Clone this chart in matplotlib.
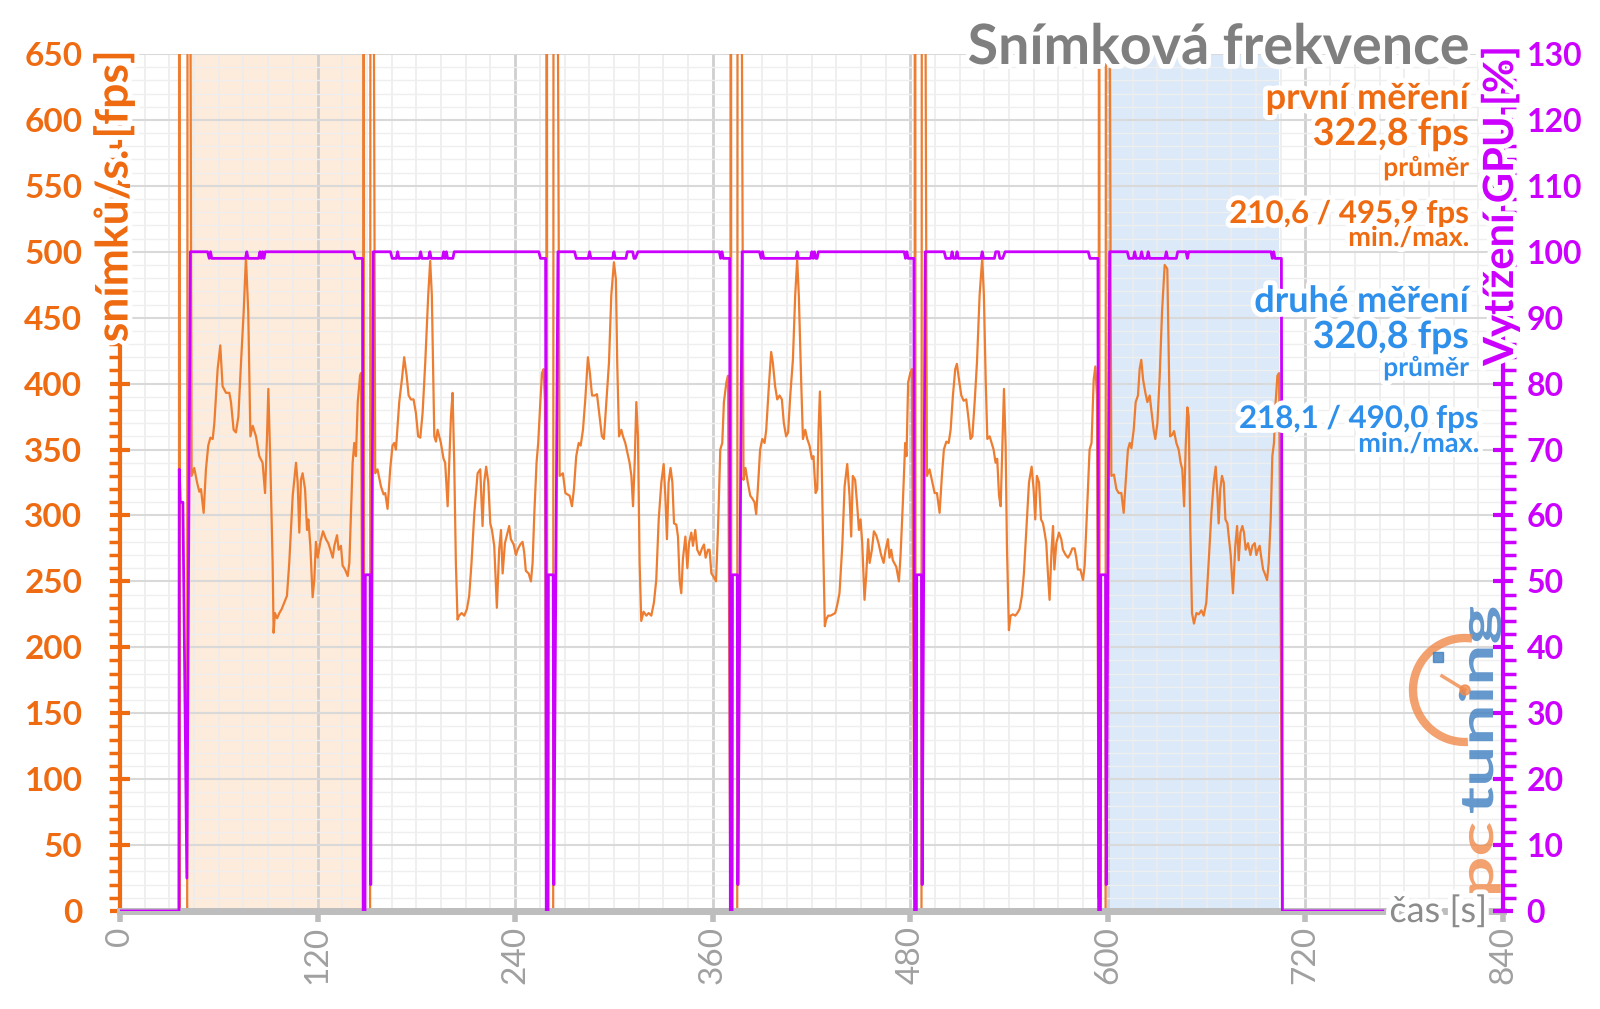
import numpy as np
import matplotlib
matplotlib.use("Agg")
import matplotlib.pyplot as plt
import matplotlib.patheffects as pe
from matplotlib.patches import Arc, PathPatch, Rectangle, Circle
from matplotlib.textpath import TextPath
from matplotlib.font_manager import FontProperties
from matplotlib.transforms import Affine2D, IdentityTransform
from matplotlib.ticker import MultipleLocator

plt.rcParams['font.family'] = ['Lato', 'DejaVu Sans']

# --- data -----------------------------------------------------------------
# start time of each benchmark run [s] (GPU jumps to 100 %)
run_start = [42.7, 153.8, 266.0, 377.9, 489.1, 601.1]

# fps inside each run: time from run start [s] and value [fps]
run1_tau = [0.8, 2.4, 4.1, 5.5, 6.5, 8.1, 9.5, 10.9, 12.2, 13.6, 14.6, 16.6, 18.2, 19.6, 21.7,
            23.7, 24.7, 26.3, 27.7, 29.2, 30.8, 32.4, 33.8, 35.2, 36.5, 37.9, 39.9, 41.9, 43.9,
            45.4, 46.6, 47.4, 48.6, 50.0, 50.6, 51.4, 52.7, 54.1, 55.5, 57.1, 58.7, 60.1, 62.2,
            64.2, 65.2, 66.2, 67.2, 68.2, 69.7, 70.9, 71.7, 72.9, 74.3, 75.3, 76.3, 77.4, 79.0,
            80.6, 82.4, 83.8, 85.1, 86.5, 87.5, 89.1, 90.1, 91.5, 92.5, 94.0, 95.6, 96.6, 97.6,
            98.6, 99.6, 100.6, 101.7, 103.1, 103.7]
run1_fps = [330, 336, 325, 318, 320, 302, 335, 353, 359, 358, 370, 411, 429, 398, 393,
            393, 386, 365, 363, 375, 416, 454, 496, 454, 360, 368, 360, 345, 340,
            317, 360, 396, 340, 264, 211, 226, 222, 226, 229, 234, 239, 264, 315,
            340, 325, 287, 327, 332, 320, 289, 297, 277, 238, 251, 280, 268, 280,
            288, 282, 279, 274, 268, 277, 285, 274, 277, 262, 259, 254, 264, 302,
            340, 355, 345, 386, 406, 408]

run2_tau = [1.2, 2.6, 4.7, 6.3, 7.3, 8.7, 10.3, 11.7, 12.8, 13.8, 15.8, 17.4, 18.8, 20.3, 21.5,
            22.9, 24.5, 25.9, 27.3, 28.6, 30.0, 31.6, 33.4, 34.6, 35.6, 37.1, 38.1, 39.1, 41.1,
            42.7, 43.7, 45.2, 46.2, 47.2, 48.2, 49.2, 50.2, 51.2, 52.2, 53.7, 55.3, 56.9, 58.3,
            59.7, 61.4, 63.4, 65.0, 66.4, 67.4, 68.6, 69.9, 71.1, 72.1, 73.5, 75.1, 76.5, 77.6,
            78.6, 80.0, 81.6, 82.6, 83.6, 85.3, 86.7, 87.7, 89.3, 90.7, 91.7, 92.7, 94.4, 95.8,
            96.8, 97.8, 99.2, 100.2, 101.5, 102.5, 103.5, 104.3]
run2_fps = [332, 335, 322, 316, 317, 305, 335, 353, 355, 350, 386, 403, 420, 406, 391,
            388, 388, 378, 360, 359, 378, 416, 467, 493, 467, 360, 356, 365, 355,
            343, 340, 307, 340, 375, 393, 340, 264, 221, 224, 226, 224, 229, 239,
            264, 302, 332, 335, 292, 325, 337, 325, 294, 289, 277, 230, 274, 289,
            256, 279, 287, 292, 282, 278, 270, 274, 278, 280, 272, 258, 256, 250,
            264, 300, 340, 355, 386, 408, 411, 386]

run3_tau = [1.0, 3.0, 4.5, 5.7, 7.1, 8.5, 9.7, 11.1, 12.6, 13.8, 15.2, 16.6, 18.2, 19.4, 20.7,
            22.3, 23.7, 25.3, 26.7, 27.9, 29.4, 31.0, 32.4, 34.0, 35.2, 36.0, 37.1, 38.5, 39.5,
            40.9, 42.1, 43.5, 44.6, 45.6, 46.6, 47.6, 48.6, 49.6, 50.6, 52.0, 53.7, 55.1, 56.7,
            58.3, 59.7, 61.2, 62.8, 64.2, 65.2, 66.2, 67.2, 68.4, 69.5, 70.5, 71.9, 72.9, 73.9,
            74.9, 75.9, 77.4, 78.6, 79.6, 81.0, 82.0, 83.4, 84.6, 86.1, 87.5, 88.7, 89.7, 91.1,
            92.1, 93.2, 94.8, 96.0, 97.2, 98.6, 99.8, 100.8, 102.3, 103.3]
run3_fps = [330, 332, 317, 316, 315, 307, 320, 345, 355, 353, 365, 388, 420, 408, 391,
            391, 392, 375, 360, 358, 386, 416, 467, 492, 479, 416, 360, 365, 360,
            355, 348, 340, 330, 307, 340, 386, 360, 264, 220, 227, 224, 226, 224,
            234, 251, 297, 325, 339, 315, 282, 325, 336, 325, 294, 293, 284, 251,
            241, 267, 284, 260, 279, 287, 277, 289, 274, 270, 275, 278, 268, 274,
            274, 256, 253, 250, 289, 350, 355, 386, 401, 406]

run4_tau = [0.8, 2.0, 3.4, 4.9, 6.1, 7.5, 8.5, 9.5, 10.9, 12.2, 13.6, 14.6, 16.2, 17.6, 18.6,
            20.0, 21.3, 22.7, 24.1, 25.3, 26.7, 27.9, 29.2, 30.8, 32.2, 33.4, 34.4, 35.8, 36.9,
            38.3, 39.5, 40.9, 42.3, 43.3, 44.6, 45.6, 46.4, 47.2, 48.0, 49.0, 50.2, 51.0, 52.2,
            53.7, 55.1, 56.5, 57.7, 59.1, 60.8, 62.2, 63.8, 65.2, 66.2, 67.2, 68.6, 69.9, 70.9,
            71.9, 72.9, 74.3, 75.3, 76.5, 77.4, 78.8, 80.0, 81.4, 82.8, 84.4, 85.9, 87.1, 88.5,
            89.5, 90.5, 91.5, 93.6, 95.2, 96.2, 97.6, 99.0, 99.8, 100.8, 102.1, 103.1]
run4_fps = [327, 336, 325, 315, 313, 310, 301, 320, 350, 358, 355, 365, 398, 424, 416,
            398, 388, 391, 388, 370, 360, 363, 391, 418, 467, 494, 467, 403, 358,
            365, 358, 353, 343, 345, 317, 320, 365, 394, 360, 289, 216, 221, 224,
            224, 225, 226, 232, 241, 277, 322, 339, 315, 284, 330, 327, 307, 289,
            297, 279, 236, 254, 282, 264, 274, 288, 285, 279, 270, 264, 274, 282,
            268, 274, 266, 261, 250, 270, 310, 355, 345, 401, 408, 411]

run5_tau = [1.0, 2.6, 4.3, 5.7, 7.1, 8.7, 10.1, 11.3, 12.8, 14.2, 15.4, 16.8, 18.2, 19.2, 20.5,
            21.9, 23.3, 24.9, 26.3, 27.5, 28.6, 30.0, 31.4, 33.0, 34.6, 35.6, 36.7, 37.7, 39.1,
            40.3, 41.5, 42.7, 43.7, 44.8, 45.8, 46.8, 47.8, 48.8, 49.6, 50.8, 51.8, 53.3, 54.7,
            55.9, 57.3, 58.7, 59.9, 61.4, 63.0, 64.6, 65.8, 66.8, 67.8, 69.1, 70.3, 71.5, 72.5,
            73.5, 74.5, 75.5, 76.7, 77.6, 78.4, 79.6, 81.2, 82.6, 83.6, 85.3, 86.7, 88.1, 89.3,
            90.7, 91.7, 92.7, 94.2, 95.8, 96.8, 98.2, 99.8, 101.0, 102.3, 103.3, 104.3]
run5_fps = [330, 335, 325, 317, 317, 302, 330, 350, 356, 355, 365, 391, 411, 415, 403,
            391, 387, 388, 373, 358, 360, 386, 416, 467, 495, 467, 403, 358, 360,
            355, 350, 340, 343, 315, 307, 353, 396, 353, 277, 213, 224, 225, 224,
            226, 229, 239, 256, 289, 325, 337, 320, 297, 330, 325, 297, 294, 287,
            279, 256, 236, 274, 292, 259, 279, 287, 282, 274, 270, 268, 271, 275,
            275, 268, 259, 259, 251, 262, 302, 350, 355, 403, 413, 391]

run6_tau = [1.0, 2.6, 4.1, 5.5, 7.1, 8.5, 9.7, 11.1, 12.2, 13.2, 14.6, 15.8, 17.2, 18.2, 19.2,
            20.3, 21.7, 22.9, 24.3, 25.3, 26.7, 27.7, 29.0, 30.4, 31.8, 33.4, 35.0, 35.8, 36.7,
            37.9, 39.1, 40.5, 41.9, 43.1, 44.1, 45.2, 46.2, 47.2, 48.0, 49.0, 50.0, 51.2, 52.7,
            54.1, 55.7, 57.1, 58.7, 60.1, 61.8, 63.2, 64.4, 65.4, 66.2, 67.2, 68.2, 69.3, 70.3,
            71.5, 72.5, 73.5, 74.9, 76.3, 77.4, 78.4, 79.4, 80.6, 81.6, 82.6, 84.0, 85.5, 86.7,
            88.1, 89.1, 90.1, 91.1, 92.1, 93.2, 94.2, 95.6, 96.6, 97.8, 98.8, 99.8, 100.8,
            101.9, 102.9]
run6_fps = [330, 331, 320, 317, 317, 302, 325, 350, 355, 351, 365, 386, 391, 411, 418,
            403, 393, 386, 391, 380, 365, 358, 370, 406, 454, 490, 487, 429, 360,
            361, 364, 355, 350, 340, 335, 307, 353, 382, 375, 289, 226, 218, 226,
            225, 228, 224, 234, 264, 302, 325, 337, 317, 294, 320, 330, 325, 297,
            294, 282, 270, 241, 277, 292, 266, 287, 292, 287, 274, 279, 270, 277,
            279, 270, 274, 277, 268, 259, 256, 251, 264, 297, 345, 355, 386,
            406, 408]

# GPU load inside each run: time from run start [s] and value [%]
run1_gpu_tau = [0, 10.5, 11.5, 12.3, 13.0, 33.5, 34.3, 35.1, 41.5, 42.3, 43.1, 43.9, 44.7, 45.5,
                99.2, 100.2, 104.6]
run1_gpu = [100, 100, 99, 100, 99, 99, 100, 99, 99, 100, 99, 100, 99, 100, 100, 99, 99]
run2_gpu_tau = [0, 10.5, 11.5, 14.0, 14.8, 15.6, 28.0, 28.8, 29.6, 33.6, 34.4, 35.2, 42.0, 42.8,
                43.6, 44.4, 45.2, 48.4, 49.2, 100.6, 101.6, 104.7]
run2_gpu = [100, 100, 99, 99, 100, 99, 99, 100, 99, 99, 100, 99, 99, 100, 99, 100, 99, 99, 100,
            100, 99, 99]
run3_gpu_tau = [0, 10.1, 11.1, 18.4, 19.2, 20.0, 33.2, 34.0, 34.8, 41.3, 42.1, 45.4, 46.2, 47.0,
                48.6, 98.0, 98.8, 99.6, 100.4, 104.3]
run3_gpu = [100, 100, 99, 99, 100, 99, 99, 100, 99, 99, 100, 100, 99, 99, 100, 100, 99, 100,
            99, 99]
run4_gpu_tau = [0, 10.5, 11.5, 12.3, 13.1, 32.6, 33.4, 34.2, 41.5, 42.3, 43.1, 43.9, 44.7, 45.5,
                46.3, 48.5, 98.4, 99.2, 100.0, 100.8, 104.3]
run4_gpu = [100, 100, 99, 100, 99, 99, 100, 99, 99, 100, 99, 100, 99, 99, 100, 100, 100, 99,
            100, 99, 99]
run5_gpu_tau = [0, 11.5, 12.5, 15.5, 16.3, 17.1, 18.5, 19.3, 20.1, 33.8, 34.6, 35.4, 42.0, 42.8,
                44.5, 45.3, 47.0, 48.5, 99.0, 100.0, 104.9]
run5_gpu = [100, 100, 99, 99, 100, 99, 99, 100, 99, 99, 100, 99, 99, 100, 100, 99, 99, 100,
            100, 99, 99]
run6_gpu_tau = [0, 10.7, 11.7, 14.4, 15.2, 16.0, 18.6, 19.4, 20.2, 22.6, 23.4, 24.2, 33.6, 34.4,
                35.2, 40.5, 41.3, 46.4, 47.2, 48.0, 98.0, 98.8, 99.6, 100.4, 104.3]
run6_gpu = [100, 100, 99, 99, 100, 99, 99, 100, 99, 99, 100, 99, 99, 100, 99, 99, 100, 100, 99,
            100, 100, 99, 100, 99, 99]

# loading before the first run
start_fps_t = [0.0, 35.8, 36.0, 36.4, 40.8, 41.2]
start_fps = [0, 0, 1500, 0, 0, 1500]
start_gpu_t = [0.0, 35.8, 36.0, 36.6, 38.2, 40.6]
start_gpu = [0, 0, 67, 62, 62, 5]

# loading between runs, time after the end of the previous run [s]
gap_fps_dt = [0.4, 0.7, 1.0, 4.6, 5.0]
gap_fps = [10, 1500, 0, 0, 1500]
gap_gpu_dt = [0.4, 1.5, 1.7, 4.6, 5.0]
gap_gpu = [0, 0, 51, 51, 4]

# idle after the last run
end_t = [706.0, 767.0]
end_fps = [0, 0]
end_gpu = [0, 0]

run_tau = [run1_tau, run2_tau, run3_tau, run4_tau, run5_tau, run6_tau]
run_fps = [run1_fps, run2_fps, run3_fps, run4_fps, run5_fps, run6_fps]
run_gpu_tau = [run1_gpu_tau, run2_gpu_tau, run3_gpu_tau, run4_gpu_tau, run5_gpu_tau, run6_gpu_tau]
run_gpu = [run1_gpu, run2_gpu, run3_gpu, run4_gpu, run5_gpu, run6_gpu]

# shaded measurement windows [s]
first_span = (41.1, 147.7)
second_span = (599.1, 703.9)

# --- assemble series -------------------------------------------------------
t_fps, fps = list(start_fps_t), list(start_fps)
t_gpu, gpu = list(start_gpu_t), list(start_gpu)
for i, s in enumerate(run_start):
    t_fps += [s + x for x in run_tau[i]]
    fps += run_fps[i]
    t_gpu += [s + x for x in run_gpu_tau[i]]
    gpu += run_gpu[i]
    e = s + run_gpu_tau[i][-1]
    if i < len(run_start) - 1:
        t_fps += [e + x for x in gap_fps_dt]
        fps += gap_fps
        t_gpu += [e + x for x in gap_gpu_dt]
        gpu += gap_gpu
t_fps += end_t
fps += end_fps
t_gpu += end_t
gpu += end_gpu

# --- styling ---------------------------------------------------------------
W, H = 1600, 1009
c_orange = '#ee6b12'
c_line = '#ed7d31'
c_mag = '#cc00ff'
c_blue = '#2e90ea'
c_gray = '#7f7f7f'
c_logo_o = '#f08a4b'
c_logo_b = '#3f7fc0'
halo = [pe.withStroke(linewidth=7, foreground='white')]

fig = plt.figure(figsize=(W / 100, H / 100), dpi=100)
ax = fig.add_axes([120 / W, 1 - 911 / H, 1383 / W, 857 / H])
ax2 = ax.twinx()

ax.axvspan(*first_span, color='#fdebdb', zorder=0.2, lw=0)
ax.axvspan(*second_span, color='#dce9f9', zorder=0.2, lw=0)

ax.plot(t_fps, fps, color=c_line, lw=1.6, zorder=2)
ax2.plot(t_gpu, gpu, color=c_mag, lw=2.0, zorder=2)

ax.set_xlim(0, 840)
ax.set_ylim(0, 650)
ax2.set_ylim(0, 130)

ax.set_axisbelow(True)
ax.xaxis.set_major_locator(MultipleLocator(120))
ax.xaxis.set_minor_locator(MultipleLocator(15))
ax.yaxis.set_major_locator(MultipleLocator(50))
ax.yaxis.set_minor_locator(MultipleLocator(10))
ax.grid(True, which='major', axis='y', color='#d9d9d9', lw=1.5)
ax.grid(True, which='minor', axis='y', color='#efefef', lw=1.0)
ax.grid(True, which='major', axis='x', color='#cfcfcf', lw=2.0)
ax.grid(True, which='minor', axis='x', color='#ececec', lw=1.2)

for a in (ax, ax2):
    a.spines['top'].set_visible(False)
ax.spines['right'].set_visible(False)
ax2.spines['left'].set_visible(False)
ax2.spines['bottom'].set_visible(False)
ax.spines['left'].set_color(c_orange)
ax.spines['left'].set_linewidth(3)
ax.spines['bottom'].set_color('#bdbdbd')
ax.spines['bottom'].set_linewidth(5)
ax2.spines['right'].set_color(c_mag)
ax2.spines['right'].set_linewidth(3)

ax.tick_params(axis='y', which='major', colors=c_orange, length=14, width=3, direction='inout',
               pad=20, labelsize=24)
ax.tick_params(axis='y', which='minor', colors=c_orange, length=8, width=2.5, direction='out')
ax.tick_params(axis='x', which='major', colors='#bdbdbd', length=8, width=4, direction='out',
               pad=3, labelsize=24, labelcolor='#a0a0a0', labelrotation=90)
ax.tick_params(axis='x', which='minor', length=0)
for lab in ax.get_yticklabels():
    lab.set_fontweight('bold')
for lab in ax.get_xticklabels():
    lab.set_fontweight('normal')

ax2.yaxis.set_major_locator(MultipleLocator(10))
ax2.yaxis.set_minor_locator(MultipleLocator(2))
ax2.tick_params(axis='y', which='major', colors=c_mag, length=14, width=3, direction='inout',
                pad=10, labelsize=23)
ax2.tick_params(axis='y', which='minor', colors=c_mag, length=9, width=2.5, direction='out')
for lab in ax2.get_yticklabels():
    lab.set_fontweight('bold')


def ftext(x, y, s, **kw):
    kw.setdefault('path_effects', halo)
    return fig.text(x / W, 1 - y / H, s, **kw)


# axis labels
ftext(114, 50, 'snímků/s. [fps]', rotation=90, ha='center', va='top', color=c_orange,
      fontsize=32, fontweight='bold')
ftext(1500, 46, 'Vytížení GPU [%]', rotation=90, ha='center', va='top', color=c_mag,
      fontsize=30, fontweight='bold')
ftext(1487, 911, 'čas [s]', ha='right', va='center', color='#8c8c8c', fontsize=26)

# title and legend texts
ftext(1469, 64, 'Snímková frekvence', ha='right', va='baseline', color=c_gray,
      fontsize=40, fontweight='bold')
ftext(1469, 109, 'první měření', ha='right', va='baseline', color=c_orange, fontsize=26,
      fontweight='bold')
ftext(1469, 145, '322,8 fps', ha='right', va='baseline', color=c_orange, fontsize=27,
      fontweight='bold')
ftext(1469, 176, 'průměr', ha='right', va='baseline', color=c_orange, fontsize=19,
      fontweight='bold')
ftext(1469, 223, '210,6 / 495,9 fps', ha='right', va='baseline', color=c_orange, fontsize=22.5,
      fontweight='bold')
ftext(1469, 246, 'min./max.', ha='right', va='baseline', color=c_orange, fontsize=19.5,
      fontweight='bold')
ftext(1469, 312, 'druhé měření', ha='right', va='baseline', color=c_blue, fontsize=26,
      fontweight='bold')
ftext(1469, 348, '320,8 fps', ha='right', va='baseline', color=c_blue, fontsize=27,
      fontweight='bold')
ftext(1469, 376, 'průměr', ha='right', va='baseline', color=c_blue, fontsize=19,
      fontweight='bold')
ftext(1479, 428, '218,1 / 490,0 fps', ha='right', va='baseline', color=c_blue, fontsize=22.5,
      fontweight='bold')
ftext(1479, 452, 'min./max.', ha='right', va='baseline', color=c_blue, fontsize=19.5,
      fontweight='bold')

# pctuning logo (pixel coordinates, text runs bottom to top)
logo_font = FontProperties(family='Lato', weight='bold')


def logo_word(word, y_start, length, x_base, x_height, color):
    tp = TextPath((0, 0), word, size=100, prop=logo_font)
    ext = tp.get_extents()
    sx = length / ext.width
    sy = x_height / 52.0
    tr = (Affine2D().translate(-ext.x0, 0).scale(sx, sy).rotate_deg(90)
          .translate(x_base, H - y_start))
    fig.add_artist(PathPatch(tr.transform_path(tp), transform=IdentityTransform(),
                             facecolor=color, edgecolor='none', alpha=0.8))


logo_word('pc', 893, 70, 1493, 24, c_logo_o)
logo_word('tuning', 813, 206, 1493, 24, c_logo_b)
fig.add_artist(Arc((1465 / W, 1 - 690 / H), 104 / W, 104 / H, theta1=85, theta2=272,
                   transform=fig.transFigure, color=c_logo_o, lw=6, alpha=0.8))
fig.add_artist(plt.Line2D([1465 / W, 1442 / W], [1 - 690 / H, 1 - 676 / H],
                          transform=fig.transFigure, color=c_logo_o, lw=2.5, alpha=0.8))
fig.add_artist(Circle((1465, H - 690), 5, transform=IdentityTransform(), color=c_logo_o,
                      alpha=0.8))
fig.add_artist(Rectangle((1433, H - 662), 10, 10, transform=IdentityTransform(),
                         color=c_logo_b, alpha=0.8))

fig.savefig('out.png', dpi=100)
